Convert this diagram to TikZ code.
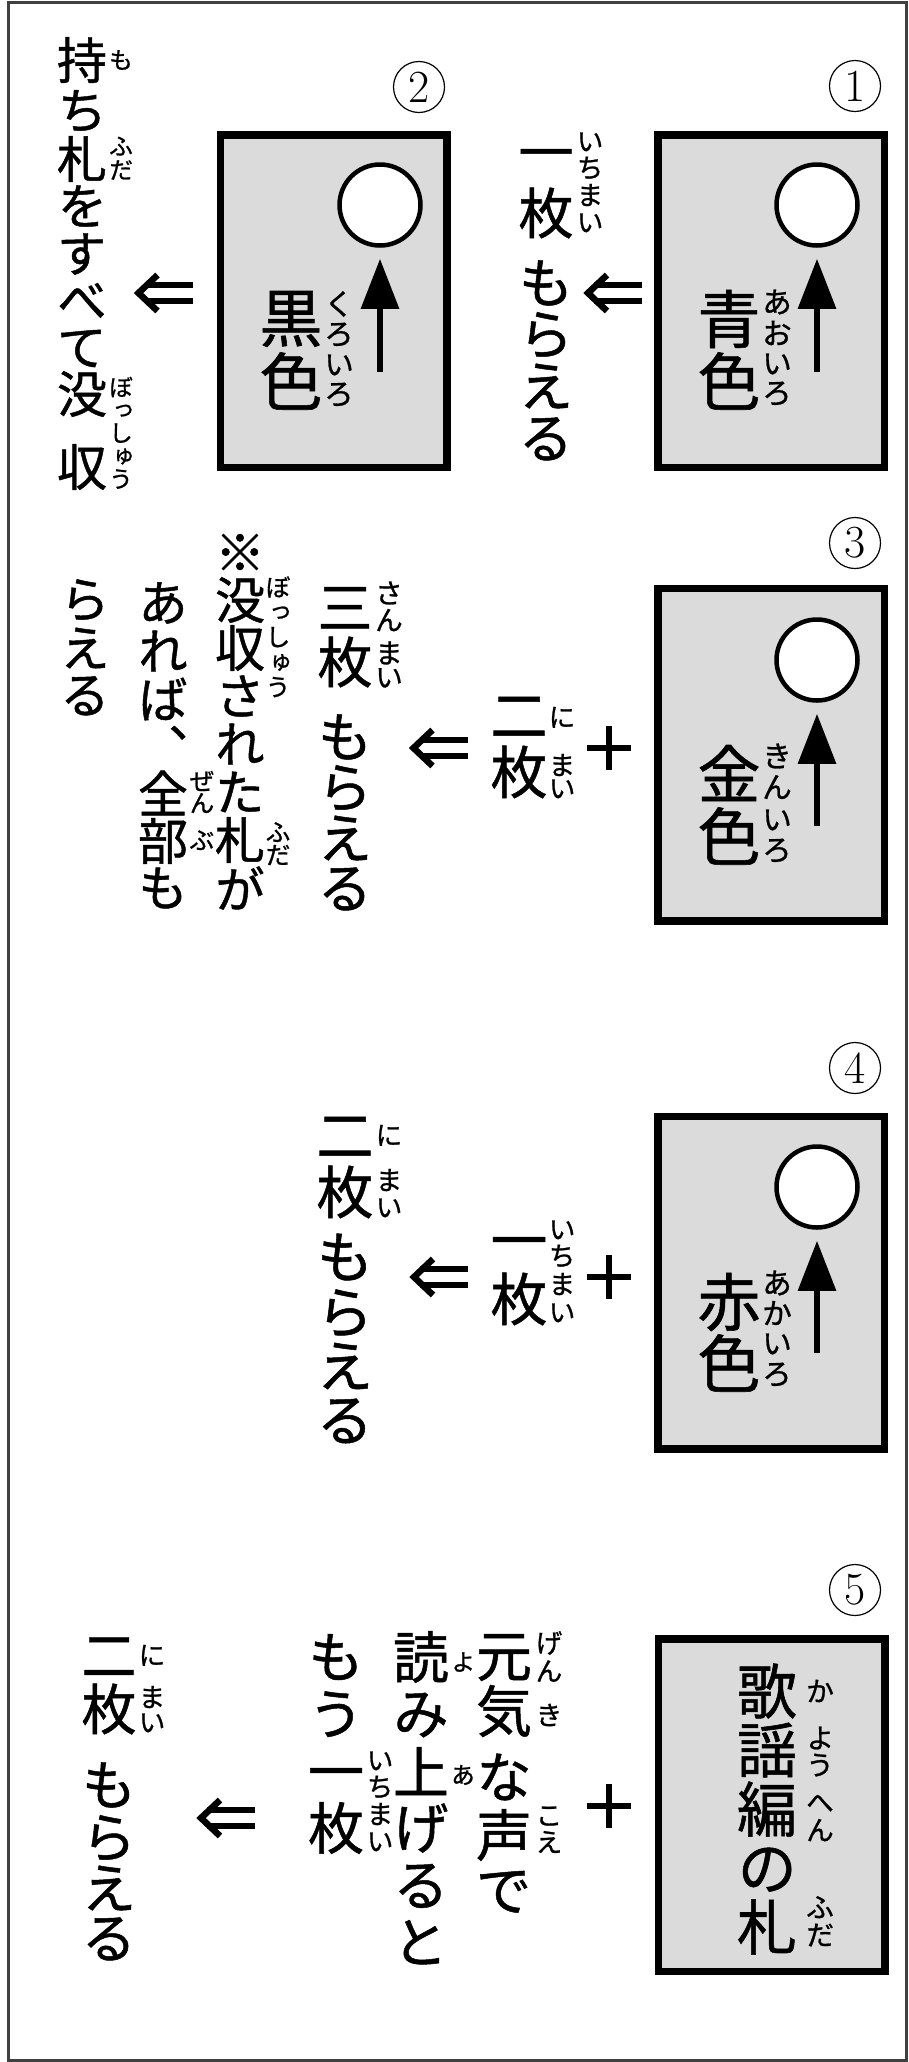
\documentclass[tikz,border=0pt]{standalone}
\usepackage{fontspec}
\newfontfamily\jp[RawFeature=+vert, FakeBold=0.9]{Noto Sans CJK JP}
\usetikzlibrary{arrows.meta}

\newcommand\tate[4][moji]{%
  \foreach \c/\y [count=\i] in {#4}
    \node[#1] (#2-\i) at (#3,\y) {\c};}

\tikzset{
  base/.style={inner sep=0pt, execute at begin node={\rule[-.02em]{0pt}{.8em}}},
  moji/.style={base, font=\jp\fontsize{#1}{#1}\selectfont},
  moji/.default=57,
  waku/.style={line width=3pt, draw=black!75},
  fuda/.style={draw, line width=7.5pt, fill=black!14, minimum width=226.5pt, minimum height=332.5pt},
  ana/.style={circle, draw, line width=4.5pt, fill=white, minimum size=81pt, inner sep=0pt},
  ue/.style={line width=6pt, -{Triangle[width=37pt,length=50pt]}, shorten >=11pt},
  bango/.style={circle, draw, line width=1.2pt, minimum size=51pt, inner sep=0pt, font=\fontsize{46}{46}\selectfont},
  tasu/.style={minimum size=50pt, inner sep=0pt, path picture={
    \draw[line width=6.5pt] ([yshift=-3pt]path picture bounding box.north) -- ([yshift=3pt]path picture bounding box.south)
      ([xshift=3pt]path picture bounding box.west) -- ([xshift=-3pt]path picture bounding box.east);}},
  nara/.style={minimum width=70pt, minimum height=56pt, inner sep=0pt, path picture={
    \begin{scope}[shift={(path picture bounding box.center)}]
      \draw[line width=6.5pt, miter limit=10] (-6,-18) -- (-25,0) -- (-6,18);
      \draw[line width=6.5pt] (-19,-8) -- (29,-8) (-19,8) -- (29,8);
    \end{scope}}}
}

\begin{document}
\begin{tikzpicture}[x=1pt, y=-1pt]
\useasboundingbox (0,0) rectangle (908,2062);
\draw[waku] (8,2) rectangle (906.5,2060.5);

\node[fuda] (c1) at (771,301) {};
\node[fuda] (c2) at (333.5,301) {};
\node[fuda] (c3) at (771,754.5) {};
\node[fuda] (c4) at (771,1282.5) {};
\node[fuda] (c5) at (771.5,1805) {};

\node[ana] (o1) at (817,205) {};
\node[ana] (o2) at (380,205) {};
\node[ana] (o3) at (817,660) {};
\node[ana] (o4) at (817,1187) {};
\coordinate (a1) at (817,372);
\coordinate (a2) at (380,372);
\coordinate (a3) at (817,826);
\coordinate (a4) at (817,1353);
\draw[ue] (a1) -- (o1);
\draw[ue] (a2) -- (o2);
\draw[ue] (a3) -- (o3);
\draw[ue] (a4) -- (o4);

\node[bango] (n1) at (855,86) {1};
\node[bango] (n2) at (419,87) {2};
\node[bango] (n3) at (855,543) {3};
\node[bango] (n4) at (855,1068) {4};
\node[bango] (n5) at (855,1590) {5};

\tate[moji=63]{k1}{729}{青/319,色/381}
\tate[moji=30]{r1}{777}{あ/302,お/333,い/363,ろ/393}
\tate[moji=63]{k2}{291}{黒/319,色/381}
\tate[moji=30]{r2}{339}{く/304,ろ/334,い/364,ろ/394}
\tate[moji=63]{k3}{729}{金/773,色/836}
\tate[moji=30]{r3}{777}{き/756,ん/787,い/819,ろ/850}
\tate[moji=63]{k4}{729}{赤/1302,色/1363}
\tate[moji=30]{r4}{777}{あ/1283,か/1313,い/1343,ろ/1374}
\tate[moji=60]{k5}{767}{歌/1691,謡/1750,編/1809,の/1868,札/1927}
\tate[moji=28]{r5}{820}{か/1691,よ/1738,う/1765,へ/1802,ん/1830,ふ/1907,だ/1935}

\node[nara] (y1) at (613,293) {};
\tate[moji=55]{t1}{546}{一/152,枚/213,も/283,ら/335,え/386,る/438}
\tate[moji=27]{s1}{590}{い/141,ち/168,ま/195,い/222}
\node[nara] (y2) at (163.5,293) {};
\tate[moji=50]{t2}{82}{持/60,ち/111,札/159,を/206,す/254,べ/300,て/347,没/394,収/467}
\tate[moji=24]{s2}{121}{も/60,ふ/146,だ/170,ぼ/387,っ/410,し/433,ゅ/456,う/479}

\node[tasu] (p3) at (609,748) {};
\tate{t3}{519}{二/715,枚/772}
\tate[moji=27]{s3}{562}{に/717,ま/765,い/788}
\node[nara] (y3) at (438.5,748) {};
\tate[moji=55]{t4}{345}{三/607,枚/662,も/737,ら/788,え/838,る/888}
\tate[moji=28]{s4}{389}{さ/593,ん/620,ま/653,い/677}
\tate[moji=50]{m1}{240}{※/552,没/600,収/648,さ/696,れ/744,た/792,札/840,が/888}
\tate[moji=25]{m1r}{278}{ぼ/587,っ/612,し/637,ゅ/662,う/687,ふ/832,だ/855}
\tate[moji=50]{m2}{163}{あ/603,れ/651,ば/699,、/747,全/793,部/841,も/888}
\tate[moji=25]{m2r}{202}{ぜ/781,ん/803,ぶ/840}
\tate[moji=50]{m3}{85}{ら/600,え/648,る/695}

\node[tasu] (p4) at (609,1277) {};
\tate{t5}{519}{一/1240,枚/1299}
\tate[moji=27]{s5}{562}{い/1229,ち/1256,ま/1284,い/1312}
\node[nara] (y4) at (439,1277) {};
\tate{t6}{345}{二/1135,枚/1192,も/1257,ら/1313,え/1366,る/1420}
\tate[moji=27]{s6}{389}{に/1135,ま/1180,い/1207}

\node[tasu] (p5) at (609,1806) {};
\tate[moji=56]{t7}{504}{元/1657,気/1711,な/1777,声/1835,で/1890}
\tate[moji=27]{s7}{549}{げ/1643,ん/1671,き/1715,こ/1815,え/1842}
\tate[moji=56]{t8}{421}{読/1657,み/1714,上/1771,げ/1828,る/1885,と/1942}
\tate[moji=24]{s8}{463}{よ/1662,あ/1775}
\tate[moji=56]{t9}{336}{も/1657,う/1714,一/1771,枚/1828}
\tate[moji=27]{s9}{380}{い/1760,ち/1787,ま/1814,い/1841}
\node[nara] (y5) at (226,1818) {};
\tate[moji=55]{t10}{109}{二/1655,枚/1709,も/1785,ら/1838,え/1888,る/1938}
\tate[moji=27]{s10}{152}{に/1655,ま/1697,い/1722}

\end{tikzpicture}
\end{document}
